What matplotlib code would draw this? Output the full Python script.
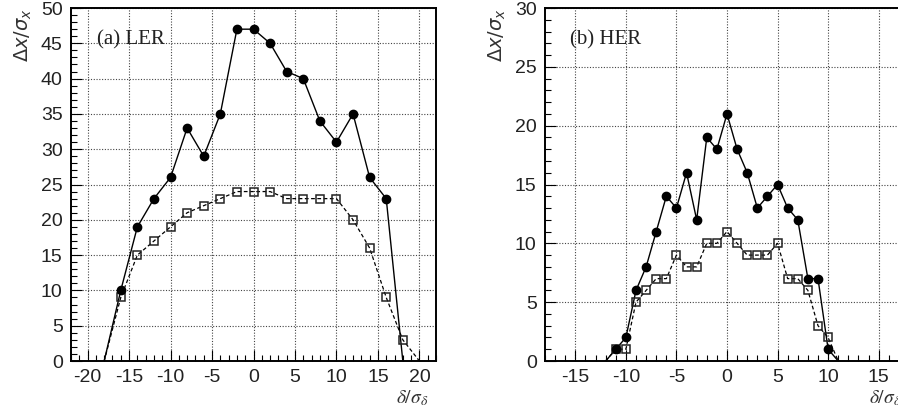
import numpy as np
import matplotlib.pyplot as plt
from matplotlib.ticker import MultipleLocator

# (a) LER
ler_x_on = [-18, -16, -14, -12, -10, -8, -6, -4, -2, 0, 2, 4, 6, 8, 10, 12, 14, 16, 18]
ler_on = [0, 10, 19, 23, 26, 33, 29, 35, 47, 47, 45, 41, 40, 34, 31, 35, 26, 23, 0]
ler_x_off = [-18, -16, -14, -12, -10, -8, -6, -4, -2, 0, 2, 4, 6, 8, 10, 12, 14, 16, 18, 20]
ler_off = [0, 9, 15, 17, 19, 21, 22, 23, 24, 24, 24, 23, 23, 23, 23, 20, 16, 9, 3, 0]

# (b) HER
her_x_on = list(range(-12, 12))
her_on = [0, 1, 2, 6, 8, 11, 14, 13, 16, 12, 19, 18, 21, 18, 16, 13, 14, 15, 13, 12, 7, 7, 1, 0]
her_x_off = list(range(-12, 12))
her_off = [0, 1, 1, 5, 6, 7, 7, 9, 8, 8, 10, 10, 11, 10, 9, 9, 9, 10, 7, 7, 6, 3, 2, 0]

plt.rcParams['font.family'] = ['Liberation Sans', 'DejaVu Sans']
plt.rcParams['mathtext.fontset'] = 'stix'
plt.rcParams['axes.unicode_minus'] = False

fig = plt.figure(figsize=(8.98, 4.12), dpi=100)
W, H = 898, 412


def panel(rect, xs_on, on, xs_off, off, xlim, ylim, xticks, label):
    ax = fig.add_axes([rect[0] / W, 1 - rect[3] / H, (rect[2] - rect[0]) / W, (rect[3] - rect[1]) / H])
    ax.plot(xs_on, on, color='black', lw=1.0, zorder=3)
    ax.plot(xs_off, off, color='black', lw=0.9, ls=(0, (3, 2)), zorder=3)
    xo = [x for x, y in zip(xs_off, off) if y > 0]
    yo = [y for y in off if y > 0]
    ax.plot(xo, yo, ls='none', marker='s', ms=6, mfc='none', mec='#222222', mew=1.1, zorder=4)
    xf = [x for x, y in zip(xs_on, on) if y > 0]
    yf = [y for y in on if y > 0]
    ax.plot(xf, yf, ls='none', marker='o', ms=6, color='black', zorder=5)
    ax.set_xlim(*xlim)
    ax.set_ylim(*ylim)
    ax.set_xticks(xticks)
    ax.xaxis.set_minor_locator(MultipleLocator(1))
    ax.yaxis.set_major_locator(MultipleLocator(5))
    ax.yaxis.set_minor_locator(MultipleLocator(1))
    ax.tick_params(which='both', direction='in', top=False, right=False, labelsize=14,
                   width=0.8, labelcolor='#222222')
    ax.tick_params(which='major', length=8, pad=6)
    ax.tick_params(which='minor', length=4)
    ax.grid(True, which='major', ls=(0, (1, 1.5)), lw=0.8, color='#444444')
    for s in ax.spines.values():
        s.set_linewidth(1.4)
    ax.text(0.07, 0.91, label, transform=ax.transAxes, fontsize=15,
            family='Liberation Serif', va='center', ha='left', color='#222222')
    ax.text(-0.13, 1.0, r'$\Delta x/\sigma_x$', transform=ax.transAxes, rotation=90,
            fontsize=14, ha='center', va='top', color='#333333', math_fontfamily='dejavusans')
    return ax


ax1 = panel((71, 8, 436, 361), ler_x_on, ler_on, ler_x_off, ler_off,
            (-22, 22), (0, 50), [-20, -15, -10, -5, 0, 5, 10, 15, 20], '(a) LER')
ax1.text(0.98, -0.105, r'$\delta/\sigma_\delta$', transform=ax1.transAxes,
         fontsize=14, ha='right', va='center', color='#333333')

ax2 = panel((545, 8, 909, 361), her_x_on, her_on, her_x_off, her_off,
            (-18, 18), (0, 30), [-15, -10, -5, 0, 5, 10, 15], '(b) HER')
ax2.text(0.98, -0.105, r'$\delta/\sigma_\delta$', transform=ax2.transAxes,
         fontsize=14, ha='right', va='center', color='#333333')

fig.savefig('out.png', dpi=100)
